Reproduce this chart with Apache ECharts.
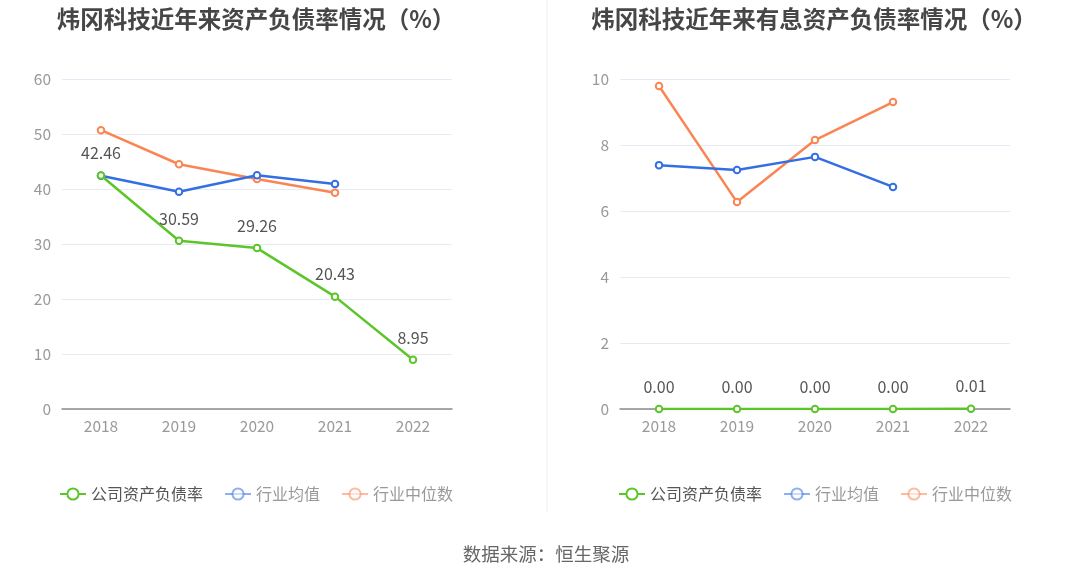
<!DOCTYPE html>
<html><head><meta charset="utf-8">
<script src="https://cdn.jsdelivr.net/npm/echarts@6/dist/echarts.min.js"></script>
<style>html,body{margin:0;padding:0;background:#fff}#c{width:1086px;height:582px}</style>
</head><body><div id="c"></div>
<script>
const categories = ['2018','2019','2020','2021','2022'];
const leftCompany = [42.46, 30.59, 29.26, 20.43, 8.95];
const leftAvg = [42.4, 39.5, 42.5, 40.9, null];
const leftMedian = [50.7, 44.5, 41.8, 39.3, null];
const rightCompany = [0, 0, 0, 0, 0.01];
const rightAvg = [7.39, 7.24, 7.64, 6.73, null];
const rightMedian = [9.79, 6.27, 8.15, 9.30, null];
const leftTicks = [0, 10, 20, 30, 40, 50, 60];
const rightTicks = [0, 2, 4, 6, 8, 10];
const seriesNames = ['公司资产负债率', '行业均值', '行业中位数'];
const titles = ['炜冈科技近年来资产负债率情况（%）', '炜冈科技近年来有息资产负债率情况（%）'];
const source = '数据来源：恒生聚源';

const GREEN = '#5cc52a', BLUE = '#336fe4', ORANGE = '#fb8552';
const font = '"Noto Sans CJK SC", "Noto Sans", sans-serif';
const chart = echarts.init(document.getElementById('c'));

function xAxis(gi){
  return {type:'category', gridIndex:gi, data:categories, boundaryGap:true,
    axisLine:{lineStyle:{color:'#8c8c8c', width:1.5}},
    axisTick:{alignWithLabel:true, length:5, lineStyle:{color:'#8c8c8c'}},
    axisLabel:{color:'#999', fontSize:15.5, margin:9, fontFamily:font}};
}
function yAxis(gi, ticks){
  return {type:'value', gridIndex:gi, min:ticks[0], max:ticks[ticks.length-1], interval:ticks[1]-ticks[0],
    axisLine:{show:false}, axisTick:{show:false},
    splitLine:{lineStyle:{color:'#e6eaf4'}},
    axisLabel:{color:'#999', fontSize:15.5, margin:11, fontFamily:font}};
}
function line(name, data, color, gi, label, z){
  return {name, type:'line', xAxisIndex:gi, yAxisIndex:gi, data, symbol:'emptyCircle', symbolSize:6.5,
    lineStyle:{color, width:2.5}, itemStyle:{color, borderWidth:2}, z:z,
    label: label ? {show:true, position:'top', distance:10, color:'#555', fontSize:16, fontFamily:font,
      formatter:p=>p.value.toFixed(2)} : {show:false}};
}
function legend(gi, left){
  return {gridIndex:gi, left:left, top:481, itemWidth:26, itemHeight:14, itemGap:21,
    textStyle:{fontSize:16, fontFamily:font, color:'#999'},
    data:[
      {name:seriesNames[0], textStyle:{color:'#555'}},
      {name:seriesNames[1], itemStyle:{opacity:0.55}, lineStyle:{opacity:0.55}},
      {name:seriesNames[2], itemStyle:{opacity:0.55}, lineStyle:{opacity:0.55}}
    ]};
}

chart.setOption({
  animation:false,
  title:[
    {text:titles[0], left:251, top:2, textAlign:'center', textStyle:{fontSize:23.5, fontWeight:'bold', color:'#464646', fontFamily:font}},
    {text:titles[1], left:809, top:2, textAlign:'center', textStyle:{fontSize:23.5, fontWeight:'bold', color:'#464646', fontFamily:font}},
    {text:source, left:541, top:540, textAlign:'center', textStyle:{fontSize:18.5, fontWeight:'normal', color:'#666', fontFamily:font}}
  ],
  legend:[legend(0, 54), legend(1, 613)],
  grid:[
    {left:62, width:390, top:79, height:330},
    {left:620, width:390, top:79, height:330}
  ],
  xAxis:[xAxis(0), xAxis(1)],
  yAxis:[yAxis(0, leftTicks), yAxis(1, rightTicks)],
  graphic:[{type:'line', shape:{x1:547, y1:0, x2:547, y2:512}, style:{stroke:'#eeeeee', lineWidth:1}}],
  series:[
    line(seriesNames[0], leftCompany, GREEN, 0, true, 5),
    line(seriesNames[1], leftAvg, BLUE, 0, false, 4),
    line(seriesNames[2], leftMedian, ORANGE, 0, false, 3),
    line(seriesNames[0], rightCompany, GREEN, 1, true, 5),
    line(seriesNames[1], rightAvg, BLUE, 1, false, 4),
    line(seriesNames[2], rightMedian, ORANGE, 1, false, 3)
  ]
});
</script></body></html>
